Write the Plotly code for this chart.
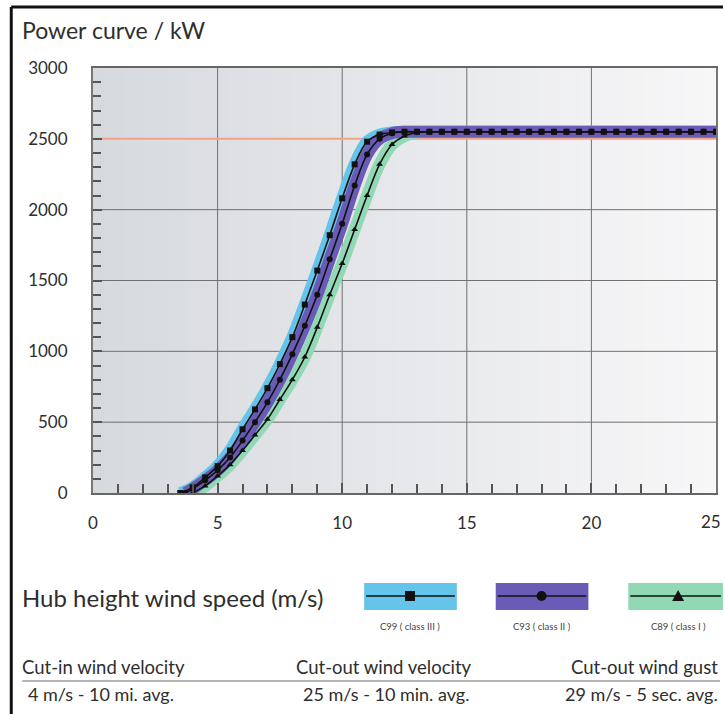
import plotly.graph_objects as go

# ---------------- data ----------------
c99_speed = [3.5, 4, 4.5, 5, 5.5, 6, 6.5, 7, 7.5, 8, 8.5, 9, 9.5, 10, 10.5, 11, 11.5, 12,
             12.5, 13, 13.5, 14, 14.5, 15, 15.5, 16, 16.5, 17, 17.5, 18, 18.5, 19, 19.5,
             20, 20.5, 21, 21.5, 22, 22.5, 23, 23.5, 24, 24.5, 25]
c99_power = [0, 40, 110, 190, 300, 450, 590, 740, 910, 1100, 1330, 1570, 1820, 2080, 2320,
             2480, 2530, 2545, 2550, 2550, 2550, 2550, 2550, 2550, 2550, 2550, 2550, 2550,
             2550, 2550, 2550, 2550, 2550, 2550, 2550, 2550, 2550, 2550, 2550, 2550, 2550,
             2550, 2550, 2550]

c93_speed = [3.7, 4, 4.5, 5, 5.5, 6, 6.5, 7, 7.5, 8, 8.5, 9, 9.5, 10, 10.5, 11, 11.5, 12,
             12.5, 13, 13.5, 14, 14.5, 15, 15.5, 16, 16.5, 17, 17.5, 18, 18.5, 19, 19.5,
             20, 20.5, 21, 21.5, 22, 22.5, 23, 23.5, 24, 24.5, 25]
c93_power = [0, 30, 90, 160, 250, 370, 500, 640, 800, 980, 1180, 1400, 1650, 1900, 2170,
             2390, 2500, 2540, 2550, 2550, 2550, 2550, 2550, 2550, 2550, 2550, 2550, 2550,
             2550, 2550, 2550, 2550, 2550, 2550, 2550, 2550, 2550, 2550, 2550, 2550, 2550,
             2550, 2550, 2550]

c89_speed = [4, 4.5, 5, 5.5, 6, 6.5, 7, 7.5, 8, 8.5, 9, 9.5, 10, 10.5, 11, 11.5, 12,
             12.5, 13, 13.5, 14, 14.5, 15, 15.5, 16, 16.5, 17, 17.5, 18, 18.5, 19, 19.5,
             20, 20.5, 21, 21.5, 22, 22.5, 23, 23.5, 24, 24.5, 25]
c89_power = [0, 50, 120, 200, 300, 410, 520, 660, 800, 960, 1170, 1400, 1620, 1860, 2100,
             2320, 2460, 2520, 2545, 2550, 2550, 2550, 2550, 2550, 2550, 2550, 2550, 2550,
             2550, 2550, 2550, 2550, 2550, 2550, 2550, 2550, 2550, 2550, 2550, 2550, 2550,
             2550, 2550]

rated_power = 2500
x_ticks = [0, 5, 10, 15, 20, 25]
y_ticks = [0, 500, 1000, 1500, 2000, 2500, 3000]

series_names = ["C89 ( class I )", "C93 ( class II )", "C99 ( class III )"]

title_text = "Power curve / kW"
axis_text = "Hub height wind speed (m/s)"
spec_headers = ["Cut-in wind velocity", "Cut-out wind velocity", "Cut-out wind gust"]
spec_values = ["4 m/s - 10 mi. avg.", "25 m/s - 10 min. avg.", "29 m/s - 5 sec. avg."]

# ---------------- styling ----------------
W, H = 725, 714
L, R, T, B = 93, 718, 68, 493   # plot area in pixels

CYAN = "#64c4e9"
PURPLE = "#6a5cb6"
GREEN = "#91d9b4"
ORANGE = "#f2a385"
TXT = "#2e2e2e"
FONT = "Lato"
TICK_SIZE = 17


def px(p):
    return (p - L) / (R - L)


def py(p):
    return (B - p) / (B - T)


fig = go.Figure()

band_w = 12
# colour bands
for xs, ys, col in [(c99_speed, c99_power, CYAN), (c89_speed, c89_power, GREEN),
                    (c93_speed, c93_power, PURPLE)]:
    fig.add_trace(go.Scatter(x=xs, y=ys, mode="lines",
                             line=dict(color=col, width=band_w, shape="spline"),
                             hoverinfo="skip", showlegend=False))

# black curves with markers
for xs, ys, sym, nm in [(c89_speed, c89_power, "triangle-up", series_names[0]),
                        (c93_speed, c93_power, "circle", series_names[1]),
                        (c99_speed, c99_power, "square", series_names[2])]:
    fig.add_trace(go.Scatter(x=xs, y=ys, mode="lines+markers", name=nm,
                             line=dict(color="#111111", width=1.6, shape="spline"),
                             marker=dict(symbol=sym, size=6, color="#111111"),
                             showlegend=False))

shapes = []
# background gradient
n = 60
c0 = (214, 217, 222)
c1 = (247, 247, 248)
for i in range(n):
    t = i / (n - 1)
    col = "rgb(%d,%d,%d)" % tuple(round(a + (b - a) * t) for a, b in zip(c0, c1))
    shapes.append(dict(type="rect", xref="paper", yref="paper",
                       x0=i / n, x1=(i + 1) / n + 0.002, y0=0, y1=1,
                       fillcolor=col, line=dict(width=0), layer="below"))
# grid lines
for v in x_ticks[1:-1]:
    shapes.append(dict(type="line", xref="x", yref="paper", x0=v, x1=v, y0=0, y1=1,
                       line=dict(color="#707070", width=1), layer="below"))
for v in y_ticks[1:-1]:
    if v == rated_power:
        continue
    shapes.append(dict(type="line", xref="paper", yref="y", x0=0, x1=1, y0=v, y1=v,
                       line=dict(color="#707070", width=1), layer="below"))
shapes.append(dict(type="line", xref="paper", yref="y", x0=0, x1=1,
                   y0=rated_power, y1=rated_power,
                   line=dict(color=ORANGE, width=2), layer="below"))

# outer frame
shapes.append(dict(type="line", xref="paper", yref="paper", x0=px(11), x1=px(725),
                   y0=py(7), y1=py(7), line=dict(color="#111", width=3)))
shapes.append(dict(type="line", xref="paper", yref="paper", x0=px(11), x1=px(11),
                   y0=py(7), y1=py(714), line=dict(color="#111", width=3)))

# legend swatches
swatches = [(365, 458, CYAN, "square", 411), (497, 590, PURPLE, "circle", 543),
            (630, 725, GREEN, "triangle", 680)]
for x0, x1, col, sym, cx in swatches:
    shapes.append(dict(type="rect", xref="paper", yref="paper",
                       x0=px(x0), x1=px(x1), y0=py(583), y1=py(610),
                       fillcolor=col, line=dict(width=0)))
    shapes.append(dict(type="line", xref="paper", yref="paper",
                       x0=px(x0 + 2), x1=px(x1 - 2), y0=py(596), y1=py(596),
                       line=dict(color="#111", width=1.6)))
    if sym == "square":
        shapes.append(dict(type="rect", xref="paper", yref="paper",
                           x0=px(cx - 5), x1=px(cx + 5), y0=py(591), y1=py(601),
                           fillcolor="#111", line=dict(width=0)))
    elif sym == "circle":
        shapes.append(dict(type="circle", xref="paper", yref="paper",
                           x0=px(cx - 5), x1=px(cx + 5), y0=py(591), y1=py(601),
                           fillcolor="#111", line=dict(width=0)))
    else:
        path = "M %f %f L %f %f L %f %f Z" % (px(cx - 6), py(601), px(cx + 6), py(601),
                                               px(cx), py(590))
        shapes.append(dict(type="path", xref="paper", yref="paper", path=path,
                           fillcolor="#111", line=dict(width=0)))

# separator line
shapes.append(dict(type="line", xref="paper", yref="paper", x0=px(22), x1=px(722),
                   y0=py(681), y1=py(681), line=dict(color="#b5b5b5", width=2)))

ann = []


def text(s, x, y, size, anchor="left", color=TXT):
    ann.append(dict(text=s, xref="paper", yref="paper", x=px(x), y=py(y),
                    xanchor=anchor, yanchor="middle", showarrow=False,
                    font=dict(family=FONT, size=size, color=color)))


text(title_text, 20, 30, 23)
text(axis_text, 20, 597, 24)
for (x0, x1, col, sym, cx), nm in zip(swatches, [series_names[2], series_names[1], series_names[0]]):
    text(nm, cx, 626, 9.5, "center", "#444")
text(spec_headers[0], 20, 667, 18.5)
text(spec_headers[1], 385, 667, 18.5, "center")
text(spec_headers[2], 722, 667, 18.5, "right")
text(spec_values[0], 26, 694, 18)
text(spec_values[1], 387, 694, 18, "center")
text(spec_values[2], 722, 694, 18, "right")
# last x tick label sits at the page edge (clipped in the reference)
text(str(x_ticks[-1]), 725, 521, TICK_SIZE, "right")

fig.update_layout(
    width=W, height=H, autosize=False,
    margin=dict(l=L, r=W - R, t=T, b=H - B, pad=0),
    paper_bgcolor="white", plot_bgcolor="white",
    shapes=shapes, annotations=ann, showlegend=False,
    font=dict(family=FONT, color=TXT),
)
fig.update_xaxes(range=[0, 25], tickvals=x_ticks[:-1], ticks="inside", ticklen=10,
                 tickcolor="#555", tickwidth=1.5, showgrid=False, zeroline=False,
                 showline=True, linecolor="#666", linewidth=2, mirror=True,
                 tickfont=dict(family=FONT, size=TICK_SIZE, color=TXT), ticklabelstandoff=14,
                 minor=dict(dtick=1, ticks="inside", ticklen=9, tickcolor="#555",
                            tickwidth=1.5, showgrid=False))
fig.update_yaxes(range=[0, 3000], tickvals=y_ticks, ticks="inside", ticklen=9,
                 tickcolor="#555", tickwidth=1.5, showgrid=False, zeroline=False,
                 showline=True, linecolor="#777", linewidth=2, mirror=True,
                 tickfont=dict(family=FONT, size=TICK_SIZE, color=TXT), ticklabelstandoff=20,
                 minor=dict(dtick=100, ticks="inside", ticklen=8, tickcolor="#555",
                            tickwidth=1.5, showgrid=False))

fig.write_html("out.html", config={"displayModeBar": False, "responsive": False},
               post_script="document.body.style.margin='0';"
                           "document.body.style.overflow='hidden';"
                           "document.documentElement.style.overflow='hidden';")
